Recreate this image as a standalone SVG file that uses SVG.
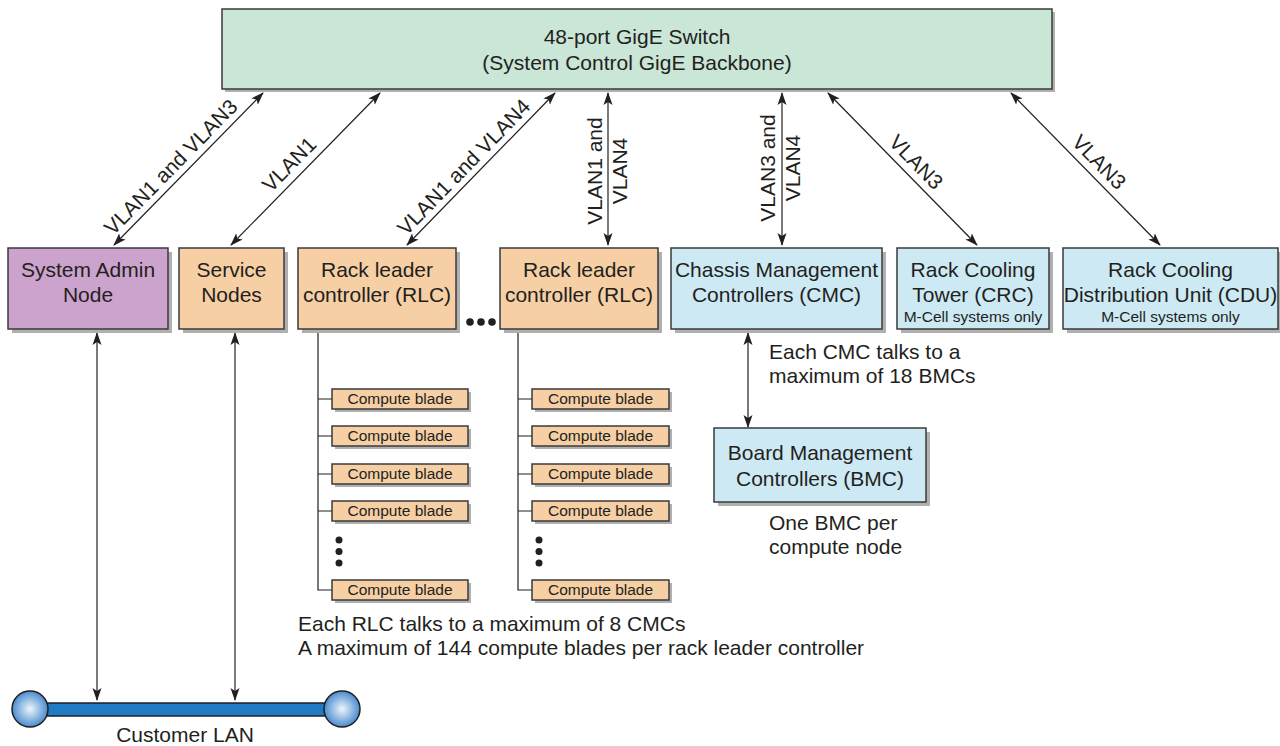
<svg xmlns="http://www.w3.org/2000/svg" width="1280" height="746" viewBox="0 0 1280 746">
<style>
text{font-family:"Liberation Sans",Arial,sans-serif;fill:#231f20}
.n{font-size:21px;text-anchor:middle}
.s{font-size:15.5px;text-anchor:middle}
.b{font-size:15.5px;text-anchor:middle}
.a{font-size:21px}
.v{font-size:21px;text-anchor:middle}
.box{stroke:#3a3a3a;stroke-width:1.5}
.sh{fill:#b0b0b0}
.g{fill:#c9e6d6}
.p{fill:#cba3cc}
.o{fill:#f6cfa5}
.c{fill:#cce9f4}
.ln{stroke:#231f20;stroke-width:1.2;fill:none}
.bi{marker-start:url(#ah);marker-end:url(#ah)}
</style>
<defs>
<marker id="ah" markerUnits="userSpaceOnUse" markerWidth="14" markerHeight="10" refX="12" refY="5" orient="auto-start-reverse">
<path d="M0,0.5 L13,5 L0,9.5 L3,5 z" fill="#231f20"/>
</marker>
<radialGradient id="ball" cx="0.5" cy="0.5" r="0.5">
<stop offset="0" stop-color="#eef5fc"/>
<stop offset="1" stop-color="#4a8ccf"/>
</radialGradient>
</defs>

<g id="switch">
<rect class="sh" x="225" y="12" width="830" height="80"/>
<rect class="box g" x="222" y="9" width="830" height="80"/>
<text class="n" x="637" y="44">48-port GigE Switch</text>
<text class="n" x="637" y="70">(System Control GigE Backbone)</text>
</g>

<g id="connectors">
<line class="ln bi" x1="263" y1="93" x2="114" y2="245"/>
<line class="ln bi" x1="380" y1="93" x2="231" y2="245"/>
<line class="ln bi" x1="555" y1="93" x2="407" y2="245"/>
<line class="ln bi" x1="608" y1="93" x2="608" y2="245"/>
<line class="ln bi" x1="782" y1="93" x2="782" y2="245"/>
<line class="ln bi" x1="828" y1="93" x2="977" y2="245"/>
<line class="ln bi" x1="1011" y1="93" x2="1160" y2="245"/>
<line class="ln bi" x1="97" y1="333" x2="97" y2="700"/>
<line class="ln bi" x1="235" y1="333" x2="235" y2="700"/>
<line class="ln bi" x1="748" y1="333" x2="748" y2="427"/>
<path class="ln" d="M318,329 V590 H332 M318,399 H332 M318,436 H332 M318,474 H332 M318,511 H332"/>
<path class="ln" d="M518,329 V590 H532 M518,399 H532 M518,436 H532 M518,474 H532 M518,511 H532"/>
<text class="v" transform="translate(181,177) rotate(-45.6)" x="0" y="-7">VLAN1 and VLAN3</text>
<text class="v" transform="translate(300,175) rotate(-45.6)" x="0" y="-8">VLAN1</text>
<text class="v" transform="translate(474,177) rotate(-45.8)" x="0" y="-7">VLAN1 and VLAN4</text>
<text class="v" transform="translate(602,171) rotate(-90)" x="0" y="0">VLAN1 and</text>
<text class="v" transform="translate(627,171) rotate(-90)" x="0" y="0">VLAN4</text>
<text class="v" transform="translate(775,168) rotate(-90)" x="0" y="0">VLAN3 and</text>
<text class="v" transform="translate(800,168) rotate(-90)" x="0" y="0">VLAN4</text>
<text class="v" transform="translate(906,172) rotate(45.6)" x="0" y="-7">VLAN3</text>
<text class="v" transform="translate(1089,172) rotate(45.6)" x="0" y="-7">VLAN3</text>
</g>

<g id="admin">
<rect class="sh" x="12" y="252" width="160" height="81"/>
<rect class="box p" x="8" y="248" width="160" height="81"/>
<text class="n" x="88" y="277">System Admin</text>
<text class="n" x="88" y="302">Node</text>
</g>
<g id="service">
<rect class="sh" x="183" y="252" width="105" height="81"/>
<rect class="box o" x="179" y="248" width="105" height="81"/>
<text class="n" x="231.5" y="277">Service</text>
<text class="n" x="231.5" y="302">Nodes</text>
</g>
<g id="rlc1">
<rect class="sh" x="302" y="252" width="158" height="81"/>
<rect class="box o" x="298" y="248" width="158" height="81"/>
<text class="n" x="377" y="277">Rack leader</text>
<text class="n" x="377" y="302">controller (RLC)</text>
</g>
<g id="ellipsis">
<circle cx="470" cy="322" r="3.8" fill="#231f20"/>
<circle cx="481" cy="322" r="3.8" fill="#231f20"/>
<circle cx="492" cy="322" r="3.8" fill="#231f20"/>
</g>
<g id="rlc2">
<rect class="sh" x="504" y="252" width="158" height="81"/>
<rect class="box o" x="500" y="248" width="158" height="81"/>
<text class="n" x="579" y="277">Rack leader</text>
<text class="n" x="579" y="302">controller (RLC)</text>
</g>
<g id="cmc">
<rect class="sh" x="675" y="252" width="211" height="81"/>
<rect class="box c" x="671" y="248" width="211" height="81"/>
<text class="n" x="776.5" y="277">Chassis Management</text>
<text class="n" x="776.5" y="302">Controllers (CMC)</text>
</g>
<g id="crc">
<rect class="sh" x="901" y="252" width="152" height="81"/>
<rect class="box c" x="897" y="248" width="152" height="81"/>
<text class="n" x="973" y="277">Rack Cooling</text>
<text class="n" x="973" y="302">Tower (CRC)</text>
<text class="s" x="973" y="322">M-Cell systems only</text>
</g>
<g id="cdu">
<rect class="sh" x="1067" y="252" width="215" height="81"/>
<rect class="box c" x="1063" y="248" width="215" height="81"/>
<text class="n" x="1170.5" y="277">Rack Cooling</text>
<text class="n" x="1170.5" y="302">Distribution Unit (CDU)</text>
<text class="s" x="1170.5" y="322">M-Cell systems only</text>
</g>
<g id="bmc">
<rect class="sh" x="718" y="432" width="212" height="74"/>
<rect class="box c" x="714" y="428" width="212" height="74"/>
<text class="n" x="820" y="460">Board Management</text>
<text class="n" x="820" y="486">Controllers (BMC)</text>
</g>

<g id="blades-left">
<rect class="sh" x="335" y="392" width="136" height="20"/><rect class="box o" x="332" y="389" width="136" height="20"/><text class="b" x="400" y="404">Compute blade</text>
<rect class="sh" x="335" y="429" width="136" height="20"/><rect class="box o" x="332" y="426" width="136" height="20"/><text class="b" x="400" y="441">Compute blade</text>
<rect class="sh" x="335" y="467" width="136" height="20"/><rect class="box o" x="332" y="464" width="136" height="20"/><text class="b" x="400" y="479">Compute blade</text>
<rect class="sh" x="335" y="504" width="136" height="20"/><rect class="box o" x="332" y="501" width="136" height="20"/><text class="b" x="400" y="516">Compute blade</text>
<rect class="sh" x="335" y="583" width="136" height="20"/><rect class="box o" x="332" y="580" width="136" height="20"/><text class="b" x="400" y="595">Compute blade</text>
<circle cx="339" cy="540" r="3.5" fill="#231f20"/><circle cx="339" cy="551.5" r="3.5" fill="#231f20"/><circle cx="339" cy="563" r="3.5" fill="#231f20"/>
</g>
<g id="blades-right">
<rect class="sh" x="535" y="392" width="137" height="20"/><rect class="box o" x="532" y="389" width="137" height="20"/><text class="b" x="600.5" y="404">Compute blade</text>
<rect class="sh" x="535" y="429" width="137" height="20"/><rect class="box o" x="532" y="426" width="137" height="20"/><text class="b" x="600.5" y="441">Compute blade</text>
<rect class="sh" x="535" y="467" width="137" height="20"/><rect class="box o" x="532" y="464" width="137" height="20"/><text class="b" x="600.5" y="479">Compute blade</text>
<rect class="sh" x="535" y="504" width="137" height="20"/><rect class="box o" x="532" y="501" width="137" height="20"/><text class="b" x="600.5" y="516">Compute blade</text>
<rect class="sh" x="535" y="583" width="137" height="20"/><rect class="box o" x="532" y="580" width="137" height="20"/><text class="b" x="600.5" y="595">Compute blade</text>
<circle cx="539" cy="540" r="3.5" fill="#231f20"/><circle cx="539" cy="551.5" r="3.5" fill="#231f20"/><circle cx="539" cy="563" r="3.5" fill="#231f20"/>
</g>

<g id="lan">
<rect x="30" y="703" width="312" height="13" fill="#1e7bc4" stroke="#231f20" stroke-width="1.5"/>
<circle cx="30" cy="709" r="18" fill="url(#ball)" stroke="#231f20" stroke-width="1.5"/>
<circle cx="342" cy="709" r="18" fill="url(#ball)" stroke="#231f20" stroke-width="1.5"/>
<text class="a" x="185" y="742" text-anchor="middle">Customer LAN</text>
</g>

<g id="notes">
<text class="a" x="769" y="359">Each CMC talks to a</text>
<text class="a" x="769" y="383">maximum of 18 BMCs</text>
<text class="a" x="769" y="530">One BMC per</text>
<text class="a" x="769" y="554">compute node</text>
<text class="a" x="298" y="631">Each RLC talks to a maximum of 8 CMCs</text>
<text class="a" x="298" y="655">A maximum of 144 compute blades per rack leader controller</text>
</g>
</svg>
